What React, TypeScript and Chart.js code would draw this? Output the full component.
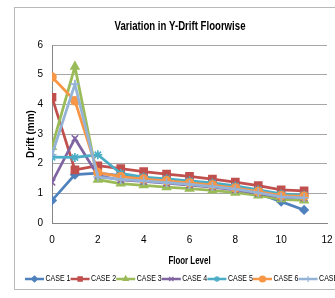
import { useEffect, useRef } from "react";
import { Chart, registerables } from "chart.js";
import { drawPoint } from "chart.js/helpers";

Chart.register(...registerables);

const floors = [0, 1, 2, 3, 4, 5, 6, 7, 8, 9, 10, 11];
const seriesNames = ["CASE 1", "CASE 2", "CASE 3", "CASE 4", "CASE 5", "CASE 6", "CASE 7"];
const case1 = [0.76, 1.63, 1.68, 1.6, 1.52, 1.45, 1.37, 1.3, 1.2, 1.0, 0.72, 0.44];
const case2 = [4.24, 1.79, 1.93, 1.83, 1.73, 1.65, 1.57, 1.48, 1.38, 1.26, 1.12, 1.08];
const case3 = [2.56, 5.27, 1.46, 1.33, 1.27, 1.21, 1.16, 1.1, 1.02, 0.93, 0.8, 0.76];
const case4 = [1.37, 2.85, 1.6, 1.45, 1.4, 1.34, 1.28, 1.21, 1.12, 1.0, 0.87, 0.85];
const case5 = [2.22, 2.21, 2.3, 1.67, 1.55, 1.49, 1.42, 1.35, 1.25, 1.12, 0.98, 0.94];
const case6 = [4.92, 4.12, 1.7, 1.56, 1.48, 1.42, 1.35, 1.28, 1.18, 1.06, 0.92, 0.9];
const case7 = [2.3, 4.68, 1.55, 1.47, 1.42, 1.36, 1.3, 1.23, 1.14, 1.02, 0.88, 0.85];
const seriesValues = [case1, case2, case3, case4, case5, case6, case7];
const seriesColors = ["#4F81BD", "#C0504D", "#9BBB59", "#8064A2", "#4BACC6", "#F79646", "#95B3D7"];
const seriesMarkers = ["rectRot", "rect", "triangle", "crossRot", "star", "circle", "cross"];
const markerRadii = [4, 5, 4.5, 4.5, 4.5, 4, 4.5];
const yTicks = [0, 1, 2, 3, 4, 5, 6];
const xTicks = [0, 2, 4, 6, 8, 10, 12];
const chartTitle = "Variation in Y-Drift Floorwise";
const xTitle = "Floor Level";
const yTitle = "Drift (mm)";

const FONT = "'Liberation Sans', 'DejaVu Sans', sans-serif";
const W = 355;
const H = 298;

function squishText(ctx: any, text: string, x: number, y: number, font: string, sx: number, align: string) {
  ctx.save();
  ctx.font = font;
  ctx.fillStyle = "#000000";
  ctx.textBaseline = "middle";
  ctx.textAlign = align;
  ctx.translate(x, y);
  ctx.scale(sx, 1);
  ctx.fillText(text, 0, 0);
  ctx.restore();
}

const framePlugin = {
  id: "frame",
  beforeDraw(chart: any) {
    const ctx = chart.ctx;
    ctx.save();
    ctx.fillStyle = "#ffffff";
    ctx.fillRect(0, 0, chart.width, chart.height);
    ctx.strokeStyle = "#b9b9b9";
    ctx.lineWidth = 1;
    ctx.strokeRect(14.5, 7.5, chart.width - 29, 282);
    ctx.restore();
  },
  afterDraw(chart: any) {
    const ctx = chart.ctx;
    const area = chart.chartArea;
    squishText(ctx, chartTitle, 180, 26, `bold 13px ${FONT}`, 0.74, "center");
    squishText(ctx, xTitle, (area.left + area.right) / 2, 261, `bold 11px ${FONT}`, 0.72, "center");
  },
};

const legendPlugin = {
  id: "excelLegend",
  afterDraw(chart: any) {
    const ctx = chart.ctx;
    const y = 279;
    const start = 25;
    const step = 45.6;
    ctx.save();
    chart.data.datasets.forEach((ds: any, i: number) => {
      const x0 = start + i * step;
      ctx.strokeStyle = ds.borderColor;
      ctx.lineWidth = 2.5;
      ctx.beginPath();
      ctx.moveTo(x0, y);
      ctx.lineTo(x0 + 19, y);
      ctx.stroke();
      ctx.fillStyle = ds.pointBackgroundColor;
      ctx.strokeStyle = ds.pointBorderColor;
      ctx.lineWidth = 1.2;
      drawPoint(ctx, { pointStyle: ds.pointStyle, radius: 3, borderWidth: 1.2, rotation: 0 }, x0 + 9.5, y);
      squishText(ctx, ds.label, x0 + 20.5, y, `9px ${FONT}`, 0.78, "left");
    });
    ctx.restore();
  },
};

export default function App() {
  const ref = useRef<HTMLCanvasElement | null>(null);
  useEffect(() => {
    if (!ref.current) return;
    const datasets = seriesNames.map((name, i) => ({
      label: name,
      data: floors.map((f, j) => ({ x: f, y: seriesValues[i][j] })),
      borderColor: seriesColors[i],
      backgroundColor: seriesColors[i],
      pointBackgroundColor: seriesColors[i],
      pointBorderColor: seriesColors[i],
      pointStyle: seriesMarkers[i],
      pointRadius: markerRadii[i],
      pointBorderWidth: 1.6,
      borderWidth: 2.75,
      tension: 0,
      order: seriesNames.length - i,
    }));
    const chart = new Chart(ref.current, {
      type: "line",
      data: { datasets },
      plugins: [framePlugin, legendPlugin],
      options: {
        animation: false,
        responsive: false,
        devicePixelRatio: 1,
        layout: { padding: { left: 0, right: W - 327, top: 45, bottom: 30 } },
        plugins: {
          legend: { display: false },
          tooltip: { enabled: false },
          title: { display: false },
        },
        scales: {
          x: {
            type: "linear",
            min: 0,
            max: 12,
            afterBuildTicks(scale: any) {
              scale.ticks = xTicks.map((v) => ({ value: v }));
            },
            afterFit(scale: any) {
              scale.height = 45;
            },
            grid: { display: false, drawTicks: false },
            border: { display: true, color: "#868686", width: 1 },
            ticks: { color: "#000000", font: { family: FONT, size: 10 }, padding: 11, maxRotation: 0, autoSkip: false },
          },
          y: {
            min: 0,
            max: 6,
            afterBuildTicks(scale: any) {
              scale.ticks = yTicks.map((v) => ({ value: v }));
            },
            afterFit(scale: any) {
              scale.width = 52;
            },
            grid: { color: "#a6a6a6", drawTicks: false, lineWidth: 1 },
            border: { display: true, color: "#868686", width: 1 },
            ticks: { color: "#000000", font: { family: FONT, size: 10 }, padding: 9 },
            title: {
              display: true,
              text: yTitle,
              color: "#000000",
              font: { family: FONT, size: 10, weight: "bold" },
              padding: { top: 25, bottom: 0 },
            },
          },
        },
      } as any,
    });
    return () => chart.destroy();
  }, []);
  return (
    <div style={{ position: "fixed", left: 0, top: 0, width: 335, height: 298, overflow: "hidden", background: "#fff" }}>
      <canvas ref={ref} width={W} height={H} style={{ width: W, height: H, display: "block" }} />
    </div>
  );
}
